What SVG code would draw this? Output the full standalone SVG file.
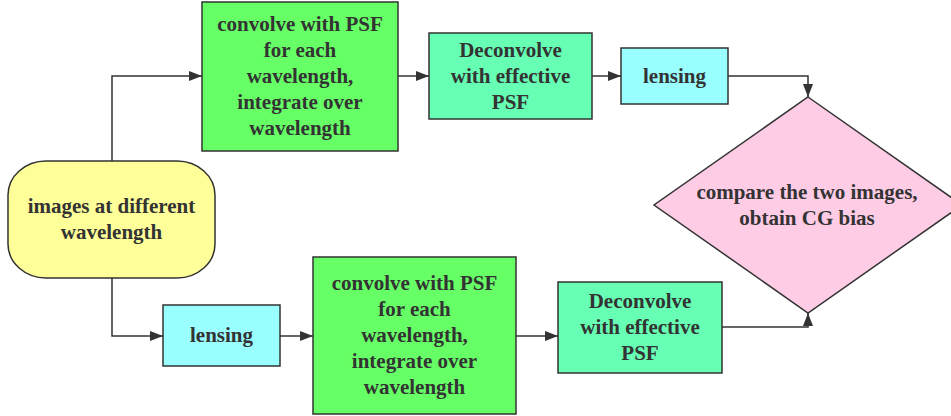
<svg xmlns="http://www.w3.org/2000/svg" width="951" height="416" viewBox="0 0 951 416">
<defs>
<marker id="arr" viewBox="0 0 13 10" refX="13" refY="5" markerWidth="13" markerHeight="10" markerUnits="userSpaceOnUse" orient="auto">
<path d="M0,0 L13,5 L0,10 Z" fill="#333"/>
</marker>
</defs>
<style>
.n{stroke:#333;stroke-width:1.5}
.t{font-weight:bold;font-size:21px;fill:#333;text-anchor:middle}
.c{fill:none;stroke:#333;stroke-width:1.5}
</style>
<rect width="951" height="416" fill="#fff"/>
<g id="connectors">
<path class="c" d="M112,161 V76 H202" marker-end="url(#arr)"/>
<path class="c" d="M398,76 H429" marker-end="url(#arr)"/>
<path class="c" d="M592,76 H621" marker-end="url(#arr)"/>
<path class="c" d="M728,76 H808 V97" marker-end="url(#arr)"/>
<path class="c" d="M112,278 V336 H163" marker-end="url(#arr)"/>
<path class="c" d="M280,336 H313" marker-end="url(#arr)"/>
<path class="c" d="M516,336 H558" marker-end="url(#arr)"/>
<path class="c" d="M722,327 H808 V313" marker-end="url(#arr)"/>
</g>
<g font-family="'Liberation Serif', 'Times New Roman', serif">
<g id="start">
<rect class="n" x="8" y="161" width="207" height="117" rx="38" ry="34" fill="#ffff99"/>
<text class="t"><tspan x="111.5" y="213">images at different</tspan><tspan x="111.5" y="239">wavelength</tspan></text>
</g>
<g id="convolve1">
<rect class="n" x="202" y="2" width="196" height="149" fill="#66ff66"/>
<text class="t"><tspan x="300" y="31">convolve with PSF</tspan><tspan x="300" y="57">for each</tspan><tspan x="300" y="83">wavelength,</tspan><tspan x="300" y="109">integrate over</tspan><tspan x="300" y="135">wavelength</tspan></text>
</g>
<g id="deconvolve1">
<rect class="n" x="429" y="33" width="163" height="86" fill="#66ffb3"/>
<text class="t"><tspan x="510.5" y="57">Deconvolve</tspan><tspan x="510.5" y="83">with effective</tspan><tspan x="510.5" y="109">PSF</tspan></text>
</g>
<g id="lensing1">
<rect class="n" x="621" y="48" width="107" height="56" fill="#99ffff"/>
<text class="t" x="674.5" y="83">lensing</text>
</g>
<g id="compare">
<polygon class="n" points="808,97 962,205 808,313 654,205" fill="#ffcce6"/>
<text class="t"><tspan x="807" y="199">compare the two images,</tspan><tspan x="807" y="225">obtain CG bias</tspan></text>
</g>
<g id="lensing2">
<rect class="n" x="163" y="305" width="117" height="61" fill="#99ffff"/>
<text class="t" x="221.5" y="342">lensing</text>
</g>
<g id="convolve2">
<rect class="n" x="313" y="257" width="203" height="157" fill="#66ff66"/>
<text class="t"><tspan x="414.5" y="290">convolve with PSF</tspan><tspan x="414.5" y="316">for each</tspan><tspan x="414.5" y="342">wavelength,</tspan><tspan x="414.5" y="368">integrate over</tspan><tspan x="414.5" y="394">wavelength</tspan></text>
</g>
<g id="deconvolve2">
<rect class="n" x="558" y="282" width="164" height="91" fill="#66ffb3"/>
<text class="t"><tspan x="640" y="308">Deconvolve</tspan><tspan x="640" y="334">with effective</tspan><tspan x="640" y="360">PSF</tspan></text>
</g>
</g>
</svg>
